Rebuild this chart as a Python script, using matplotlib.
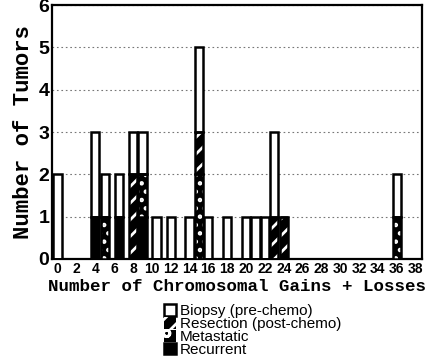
import matplotlib
matplotlib.use('Agg')
import matplotlib.pyplot as plt
import matplotlib.patches as mpatches
import numpy as np

# positions of the bars (number of gains + losses)
gains = [0, 4, 5, 6.5, 8, 9, 10.5, 12, 14, 15, 16, 18, 20, 21, 22, 23, 24, 36]
# counts per group, stacked bottom -> top: recurrent, metastatic, resection, biopsy
recurrent = [0, 1, 0, 1, 0, 1, 0, 0, 0, 0, 0, 0, 0, 0, 0, 0, 0, 0]
metastatic = [0, 0, 1, 0, 0, 1, 0, 0, 0, 2, 0, 0, 0, 0, 0, 0, 0, 1]
resection = [0, 0, 0, 0, 2, 0, 0, 0, 0, 1, 0, 0, 0, 0, 0, 1, 1, 0]
biopsy = [2, 2, 1, 1, 1, 1, 1, 1, 1, 2, 1, 1, 1, 1, 1, 2, 0, 1]

labels = ["Biopsy (pre-chemo)", "Resection (post-chemo)", "Metastatic", "Recurrent"]
xticks = list(range(0, 39, 2))

plt.rcParams['hatch.linewidth'] = 2.0

fig = plt.figure(figsize=(4.33, 3.59), dpi=100)
ax = fig.add_axes([0.120, 0.2786, 0.855, 0.7074])

w = 0.88
lw = 1.8
x = np.array(gains)
rec = np.array(recurrent)
met = np.array(metastatic)
res = np.array(resection)
bio = np.array(biopsy)

# recurrent: solid black
ax.bar(x, rec, w, color='black', edgecolor='black', linewidth=lw, zorder=3)
# metastatic: black with white dots
b1 = rec
ax.bar(x, met, w, bottom=b1, color='black', edgecolor='white', hatch='..', linewidth=0, zorder=3)
ax.bar(x, met, w, bottom=b1, fill=False, edgecolor='black', linewidth=lw, zorder=4)
# resection: black with white diagonal stripes
b2 = rec + met
ax.bar(x, res, w, bottom=b2, color='black', edgecolor='white', hatch='//', linewidth=0, zorder=3)
ax.bar(x, res, w, bottom=b2, fill=False, edgecolor='black', linewidth=lw, zorder=4)
# biopsy: white
b3 = rec + met + res
ax.bar(x, bio, w, bottom=b3, color='white', edgecolor='black', linewidth=lw, zorder=3)

ax.set_xlim(-0.6, 38.7)
ax.set_ylim(0, 6)
ax.set_xticks(xticks)
ax.set_xticklabels([str(t) for t in xticks], fontsize=10, fontweight='bold',
                   family='Liberation Sans')
ax.set_yticks(range(0, 7))
ax.set_yticklabels([str(t) for t in range(0, 7)], fontsize=14, fontweight='bold',
                   family='Liberation Sans')
ax.tick_params(length=0, pad=2)
for s in ax.spines.values():
    s.set_linewidth(1.6)
ax.yaxis.grid(True, linestyle=(0, (1.5, 2.5)), color='#777777', linewidth=0.8, zorder=0)
ax.set_axisbelow(True)

ax.set_xlabel("Number of Chromosomal Gains + Losses", family='Liberation Mono',
              fontweight='bold', fontsize=12.6, labelpad=2)
ax.set_ylabel("Number of Tumors", family='Liberation Mono', fontweight='bold',
              fontsize=16, labelpad=3)

# legend
handles = [
    mpatches.Patch(facecolor='white', edgecolor='black', linewidth=1.8),
    mpatches.Patch(facecolor='black', edgecolor='white', hatch='//', linewidth=0),
    mpatches.Patch(facecolor='black', edgecolor='white', hatch='o', linewidth=0),
    mpatches.Patch(facecolor='black', edgecolor='black', linewidth=1.8),
]
fig.legend(handles, labels, loc='upper left', bbox_to_anchor=(164 / 433, 1 - 304 / 359),
           frameon=False, handlelength=0.8, handleheight=0.8,
           handletextpad=0.25, labelspacing=-0.08, borderpad=0, borderaxespad=0,
           prop={'family': 'Liberation Sans', 'size': 11})

plt.savefig('out.png', dpi=100)
